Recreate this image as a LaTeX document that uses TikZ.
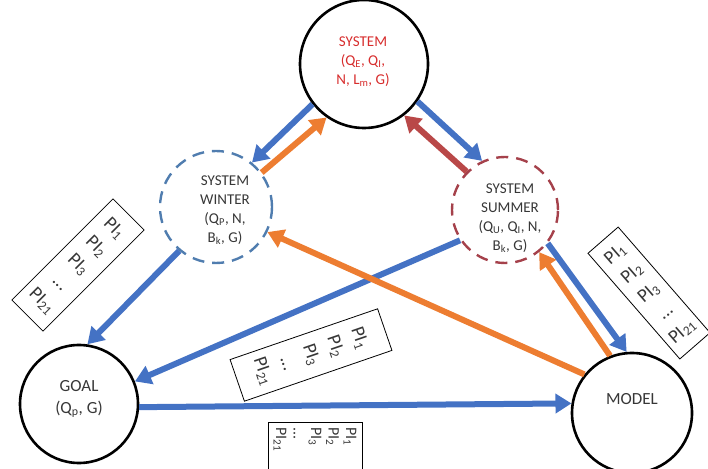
\documentclass[tikz,border=0pt]{standalone}
\usepackage{fontspec}
\setmainfont{Carlito}
\usetikzlibrary{positioning,arrows.meta,calc}
\definecolor{flowblue}{RGB}{68,114,196}
\definecolor{floworange}{RGB}{237,125,49}
\definecolor{flowred}{RGB}{185,72,72}
\definecolor{winterblue}{RGB}{80,125,175}
\definecolor{summerred}{RGB}{165,65,75}
\definecolor{systemred}{RGB}{215,45,45}
\definecolor{txtgray}{RGB}{55,55,55}
\tikzset{
  state/.style={circle, draw=black, line width=2.6pt, inner sep=0pt},
  season/.style={circle, line width=2.4pt, dash pattern=on 12pt off 8pt, inner sep=0pt},
  flow/.style={line width=6pt, -{Triangle[length=16pt,width=19pt]}},
  statetext/.style={align=center, text=txtgray, font=\fontsize{15}{19}\selectfont},
  bigtext/.style={align=center, text=txtgray, font=\fontsize{17}{22}\selectfont},
  plbox/.style={draw=black, line width=0.8pt, align=center, inner sep=5pt,
    text=txtgray, font=\fontsize{19}{25.5}\selectfont}
}

\begin{document}
\begin{tikzpicture}[x=1pt, y=1pt]
    \clip (0,0) rectangle (708,468);

    \node[state, minimum size=128pt] (sys) at (364,404) {};
    \node[season, draw=winterblue, minimum size=112pt] (win) at (216,261) {};
    \node[season, draw=summerred, minimum size=106pt] (sum) at (505,258) {};
    \node[state, minimum size=118pt] (goal) at (79,64) {};
    \node[state, minimum size=120pt] (model) at (632,55) {};

    \node[statetext, text=systemred] (systxt) at ([shift={(-1,2)}]sys.center) {SYSTEM\\(Q\textsubscript{E}, Q\textsubscript{I},\\N, L\textsubscript{m}, G)};
    \node[statetext] (wintxt) at ([shift={(9,-3)}]win.center) {SYSTEM\\WINTER\\(Q\textsubscript{P}, N,\\B\textsubscript{k}, G)};
    \node[statetext] (sumtxt) at ([shift={(5,-8)}]sum.center) {SYSTEM\\SUMMER\\(Q\textsubscript{U}, Q\textsubscript{I}, N,\\B\textsubscript{k}, G)};
    \node[bigtext] (goaltxt) at ([yshift=5]goal.center) {GOAL\\(Q\textsubscript{p}, G)};
    \node[bigtext] (modeltxt) at ([yshift=14]model.center) {MODEL};

    % indicator lists
    \node[plbox, rotate=-45, minimum width=44pt, minimum height=143pt] (plwin) at (78,203) {PI\textsubscript{1}\\PI\textsubscript{2}\\PI\textsubscript{3}\\...\\PI\textsubscript{21}};
    \node[plbox, rotate=-71, minimum width=44pt, minimum height=156pt] (plsum) at (311,113) {PI\textsubscript{1}\\PI\textsubscript{2}\\PI\textsubscript{3}\\...\\PI\textsubscript{21}};
    \node[plbox, rotate=41, minimum width=40pt, minimum height=140pt] (plmod) at (649,175) {PI\textsubscript{1}\\PI\textsubscript{2}\\PI\textsubscript{3}\\...\\PI\textsubscript{21}};
    \node[plbox, rotate=-90, anchor=west, text width=62pt, align=left, minimum height=94pt,
      font=\fontsize{16}{17.5}\selectfont] (plgoal) at (315,46) {PI\textsubscript{1}\\PI\textsubscript{2}\\PI\textsubscript{3}\\...\\PI\textsubscript{21}};

    \draw[flow, flowblue]   (sys.218)   -- (win.51);
    \draw[flow, floworange] (win.37)    -- (sys.235);
    \draw[flow, flowblue]   (sys.-35)   -- (sum.115);
    \draw[flow, flowred]    (sum.135)   -- (sys.-52);
    \draw[flow, flowblue]   (win.230)   -- (goal.82);
    \draw[flow, flowblue]   (sum.214)   -- (goal.22);
    \draw[flow, flowblue]   (goal.-3)   -- (model.171);
    \draw[flow, floworange] (model.141) -- (win.-26);
    \draw[flow, floworange] (model.111) -- (sum.-51);
    \draw[flow, flowblue]   (sum.-38)   -- (model.95);

  \end{tikzpicture}
\end{document}
